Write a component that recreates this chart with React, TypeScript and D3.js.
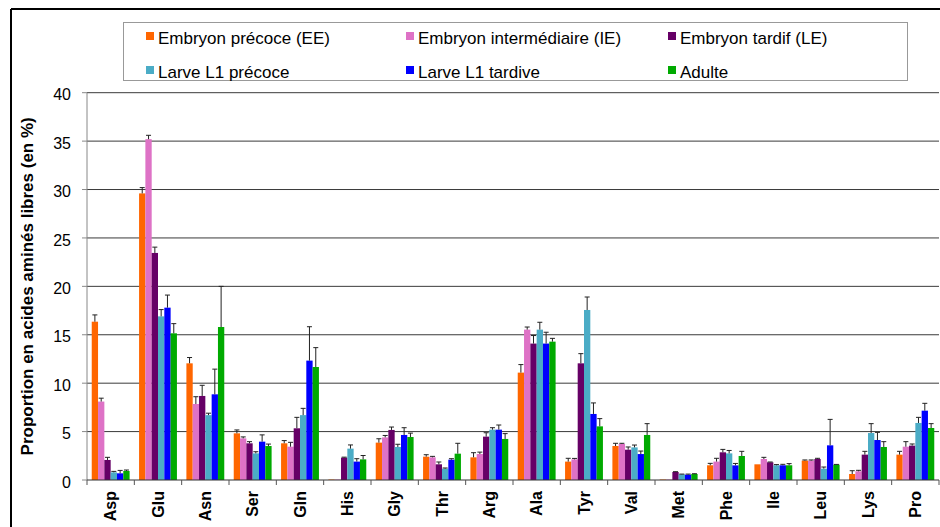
import * as d3 from 'd3';

const categories = ['Asp', 'Glu', 'Asn', 'Ser', 'Gln', 'His', 'Gly', 'Thr', 'Arg', 'Ala', 'Tyr', 'Val', 'Met', 'Phe', 'Ile', 'Leu', 'Lys', 'Pro'];

const seriesNames = [
  'Embryon précoce (EE)',
  'Embryon intermédiaire (IE)',
  'Embryon tardif (LE)',
  'Larve L1 précoce',
  'Larve L1 tardive',
  'Adulte',
];

const seriesColors = ['#FF6600', '#DE72C6', '#660066', '#4BACC6', '#0000FF', '#00AA00'];

// mean values (%)
const embryonPrecoce = [16.35, 29.6, 12.05, 4.82, 3.79, 0.05, 3.86, 2.41, 2.34, 11.09, 1.9, 3.51, 0.05, 1.52, 1.62, 2.0, 0.62, 2.62];
const embryonInter = [8.1, 35.2, 7.85, 4.3, 3.44, 0.05, 4.4, 2.34, 2.68, 15.53, 2.13, 3.72, 0.05, 1.9, 2.17, 2.0, 0.9, 3.44];
const embryonTardif = [2.07, 23.45, 8.68, 3.79, 5.34, 2.31, 5.17, 1.62, 4.48, 14.09, 12.05, 3.13, 0.83, 2.86, 1.83, 2.17, 2.62, 3.55];
const larvePrecoce = [0.79, 16.9, 6.7, 2.75, 6.7, 3.24, 3.41, 1.17, 5.2, 15.53, 17.56, 3.37, 0.59, 2.75, 1.52, 1.17, 4.85, 5.89];
const larveTardive = [0.69, 17.8, 8.85, 3.96, 12.33, 1.9, 4.65, 2.1, 5.2, 14.09, 6.82, 2.68, 0.55, 1.51, 1.52, 3.58, 4.13, 7.16];
const adulte = [0.93, 15.15, 15.8, 3.51, 11.67, 2.13, 4.44, 2.72, 4.24, 14.29, 5.54, 4.65, 0.62, 2.48, 1.52, 1.58, 3.41, 5.37];

// upper error bars
const errPrecoce = [0.7, 0.6, 0.6, 0.35, 0.28, 0, 0.4, 0.2, 0.48, 0.83, 0.34, 0.28, 0, 0.2, 0, 0.07, 0.34, 0.34];
const errInter = [0.35, 0.4, 0.75, 0.15, 0.45, 0, 0.2, 0.1, 0.2, 0.27, 0.1, 0.07, 0, 0.34, 0.17, 0.07, 0.1, 0.52];
const errTardif = [0.27, 0.6, 1.1, 0.17, 1.13, 0.05, 0.3, 0.24, 0.4, 0.83, 1.0, 0.28, 0.03, 0.3, 0.03, 0.07, 0.34, 0.17];
const errLarvePrecoce = [0.1, 0.7, 0.2, 0.17, 0.7, 0.38, 0.28, 0.07, 0.2, 0.76, 1.34, 0.24, 0.02, 0.3, 0.07, 0.17, 0.97, 0.58];
const errLarveTardive = [0.3, 1.3, 2.6, 0.7, 3.5, 0.3, 0.75, 0.1, 0.48, 1.17, 1.14, 0.31, 0.06, 0.2, 0.1, 2.68, 0.79, 0.76];
const errAdulte = [0.1, 1.0, 4.2, 0.2, 2.0, 0.4, 0.4, 1.07, 0.55, 0.34, 0.8, 1.17, 0.03, 0.48, 0.17, 0.03, 0.55, 0.45];

const yTicks = [0, 5, 10, 15, 20, 25, 30, 35, 40];

const allValues = [embryonPrecoce, embryonInter, embryonTardif, larvePrecoce, larveTardive, adulte];
const allErrors = [errPrecoce, errInter, errTardif, errLarvePrecoce, errLarveTardive, errAdulte];

const FONT = '"Liberation Sans", Arial, sans-serif';

export default function App() {
  const width = 940;
  const height = 527;

  // plot area
  const left = 87;
  const right = 939;
  const top = 92.7;
  const bottom = 480;

  const x0 = d3.scaleBand<string>().domain(categories).range([left, right]).padding(0);
  const x1 = d3.scaleBand<number>()
    .domain(d3.range(seriesNames.length))
    .range([0, x0.bandwidth()])
    .paddingInner(0)
    .paddingOuter(0.75);
  const y = d3.scaleLinear().domain([0, 40]).range([bottom, top]);

  const legendCols = [146, 406, 668];
  const legendRows = [36, 70];

  return (
    <svg
      width={width}
      height={height}
      style={{ position: 'fixed', left: 0, top: 0, display: 'block', background: '#fff' }}
      fontFamily={FONT}
    >
      <rect x={0} y={0} width={width} height={height} fill="#fff" />

      {/* outer frame (cropped on the right/bottom) */}
      <line x1={11} y1={9} x2={width} y2={9} stroke="#000" strokeWidth={2} />
      <line x1={11} y1={9} x2={11} y2={height} stroke="#000" strokeWidth={2} />

      {/* gridlines */}
      {yTicks.slice(1).map(t => (
        <line key={'g' + t} x1={left} x2={right} y1={y(t)} y2={y(t)} stroke="#3a3a3a" strokeWidth={1} />
      ))}

      {/* y axis */}
      <line x1={left} x2={left} y1={top} y2={bottom} stroke="#888" strokeWidth={1} />
      {yTicks.map(t => (
        <g key={'t' + t}>
          <line x1={left - 5} x2={left} y1={y(t)} y2={y(t)} stroke="#888" />
          <text x={71} y={y(t) + 7.6} textAnchor="end" fontSize={16} fill="#000">{t}</text>
        </g>
      ))}

      {/* bars */}
      {allValues.map((vals, s) => (
        <g key={'s' + s}>
          {vals.map((v, i) => (
            <rect
              key={i}
              x={(x0(categories[i]) ?? 0) + (x1(s) ?? 0)}
              y={y(v)}
              width={x1.bandwidth()}
              height={bottom - y(v)}
              fill={seriesColors[s]}
            />
          ))}
        </g>
      ))}

      {/* error bars */}
      {allValues.map((vals, s) => (
        <g key={'e' + s} stroke="#222" strokeWidth={1}>
          {vals.map((v, i) => {
            const e = allErrors[s][i];
            if (e <= 0) return null;
            const cx = (x0(categories[i]) ?? 0) + (x1(s) ?? 0) + x1.bandwidth() / 2;
            return (
              <g key={i}>
                <line x1={cx} x2={cx} y1={y(v)} y2={y(v + e)} />
                <line x1={cx - 2.5} x2={cx + 2.5} y1={y(v + e)} y2={y(v + e)} />
              </g>
            );
          })}
        </g>
      ))}

      {/* x axis */}
      <line x1={left} x2={right} y1={bottom} y2={bottom} stroke="#333" strokeWidth={1} />
      {categories.map((c, i) => (
        <line
          key={'xt' + i}
          x1={x0(c) ?? 0}
          x2={x0(c) ?? 0}
          y1={bottom}
          y2={bottom + 5}
          stroke="#555"
        />
      ))}
      <line x1={right} x2={right} y1={bottom} y2={bottom + 5} stroke="#555" />
      {categories.map(c => (
        <text
          key={'xl' + c}
          transform={`translate(${(x0(c) ?? 0) + x0.bandwidth() / 2},${491}) rotate(-90)`}
          textAnchor="end"
          dy="0.36em"
          fontSize={16}
          fontWeight="bold"
          fill="#000"
        >
          {c}
        </text>
      ))}

      {/* y title */}
      <text
        transform={`translate(33,${(top + bottom) / 2}) rotate(-90)`}
        textAnchor="middle"
        fontSize={17}
        fontWeight="bold"
        fill="#000"
      >
        Proportion en acides aminés libres (en %)
      </text>

      {/* legend */}
      <rect x={123.5} y={22.5} width={784} height={58} fill="#fff" stroke="#999" strokeWidth={1} />
      {seriesNames.map((name, i) => {
        const col = legendCols[i % 3];
        const row = legendRows[Math.floor(i / 3)];
        return (
          <g key={'l' + i}>
            <rect x={col} y={row - 4} width={8} height={8} fill={seriesColors[i]} />
            <text x={col + 12} y={row + 8} fontSize={17} fill="#000">{name}</text>
          </g>
        );
      })}
    </svg>
  );
}
